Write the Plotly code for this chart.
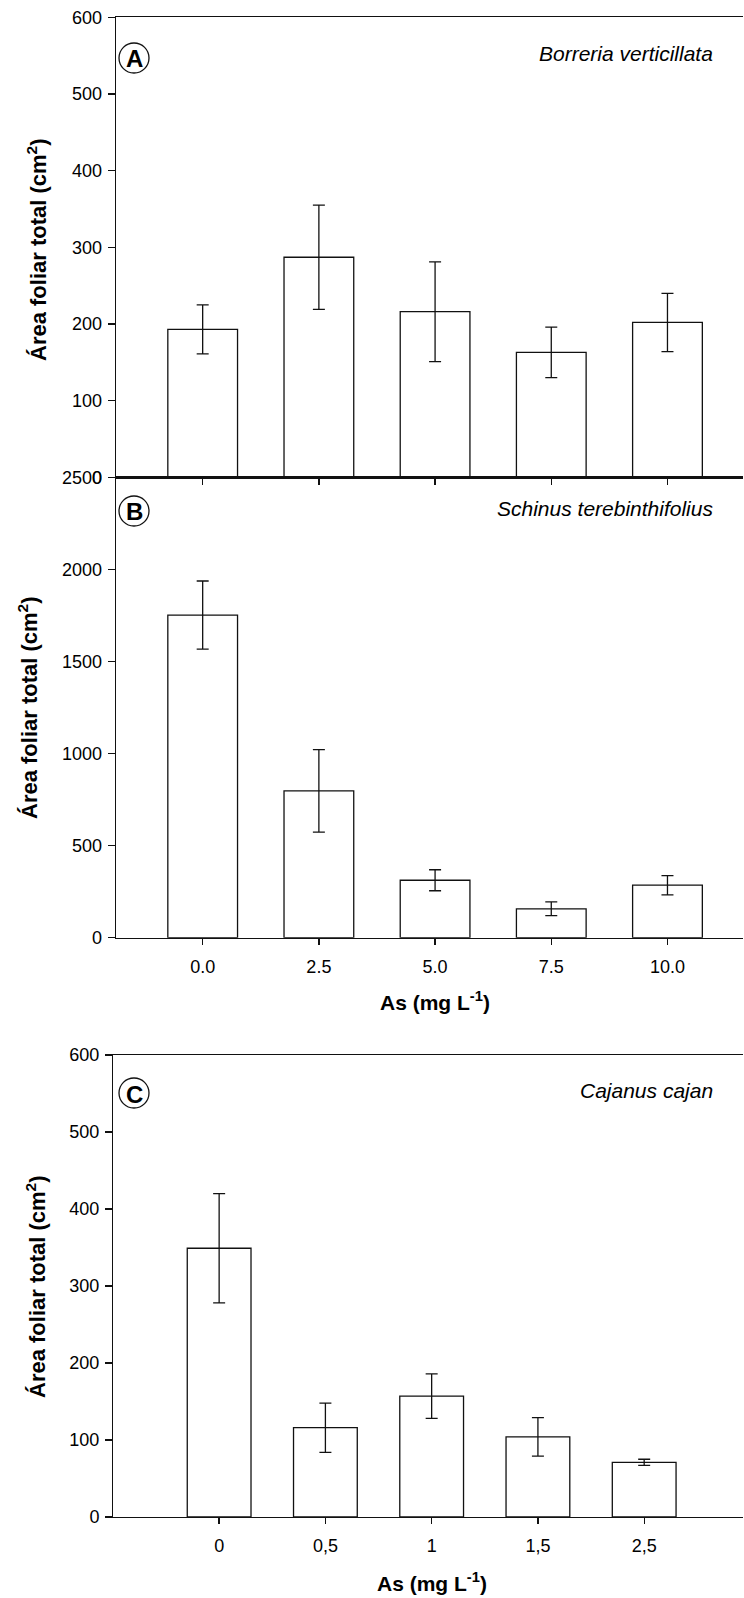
import plotly.graph_objects as go

# ---- data ----
pos = [0, 1, 2, 3, 4]
labels_b = ["0.0", "2.5", "5.0", "7.5", "10.0"]
labels_c = ["0", "0,5", "1", "1,5", "2,5"]

area_a = [193, 287, 216, 163, 202]
err_a = [32, 68, 65, 33, 38]

area_b = [1752, 797, 312, 157, 285]
err_b = [185, 224, 57, 37, 52]

area_c = [349, 116, 157, 104, 71]
err_c = [71, 32, 29, 25, 4]

species = ["Borreria verticillata", "Schinus terebinthifolius", "Cajanus cajan"]
panel_letters = ["A", "B", "C"]
ytitle = "<b>Área foliar total (cm<sup>2</sup>)</b>"
xtitle = "<b>As (mg L<sup>-1</sup>)</b>"

# page body margin is removed by the post script; figure fills the window
W, H = 744, 1598
FONT = "Liberation Sans, Arial, sans-serif"
LINE = "#111111"


def px(p):
    return p / W


def py(p):
    return 1 - p / H


fig = go.Figure()

for vals, errs, xa, ya in [(area_a, err_a, "x", "y"), (area_b, err_b, "x2", "y2"), (area_c, err_c, "x3", "y3")]:
    fig.add_trace(go.Bar(
        x=pos, y=vals, width=0.6, xaxis=xa, yaxis=ya,
        marker=dict(color="white", line=dict(color=LINE, width=1.3)),
        error_y=dict(type="data", array=errs, visible=True, color=LINE, thickness=1.3, width=6),
        showlegend=False, hoverinfo="skip",
    ))

common_x = dict(showline=True, linecolor=LINE, linewidth=1.3, mirror=True, ticks="outside",
                ticklen=6, tickcolor=LINE, tickwidth=1.3, showgrid=False, zeroline=False,
                tickvals=pos, tickfont=dict(family=FONT, size=18, color="black"),
                ticklabelstandoff=6, automargin=False, ticklabeloverflow="allow")
common_y = dict(showline=True, linecolor=LINE, linewidth=1.3, ticks="outside", ticklen=7,
                tickcolor=LINE, tickwidth=1.3, showgrid=False, zeroline=False,
                tickfont=dict(family=FONT, size=18, color="black"), ticklabelstandoff=2,
                automargin=False, ticklabeloverflow="allow")

fig.update_layout(
    template="none",
    width=W, height=H, margin=dict(l=0, r=0, t=0, b=0, pad=0, autoexpand=False), autosize=False,
    paper_bgcolor="white", plot_bgcolor="white",
    xaxis=dict(common_x, domain=[px(116), px(743)], range=[-0.746, 4.65], anchor="y",
               showticklabels=False),
    yaxis=dict(common_y, domain=[py(477.3), py(17.3)], range=[0, 600], dtick=100, anchor="x"),
    xaxis2=dict(common_x, domain=[px(116), px(743)], range=[-0.746, 4.65], anchor="y2",
                ticktext=labels_b),
    yaxis2=dict(common_y, domain=[py(937.7), py(477.3)], range=[0, 2500], dtick=500, anchor="x2"),
    xaxis3=dict(common_x, domain=[px(113.3), px(743)], range=[-0.996, 4.93], anchor="y3",
                ticktext=labels_c),
    yaxis3=dict(common_y, domain=[py(1517), py(1055)], range=[0, 600], dtick=100, anchor="x3"),
)

annotations = []
# y titles
for xc, yc in [(37, 250), (28, 708), (36, 1287)]:
    annotations.append(dict(text=ytitle, x=px(xc), y=py(yc), xref="paper", yref="paper",
                            showarrow=False, textangle=-90, xanchor="center", yanchor="middle",
                            font=dict(family=FONT, size=22, color="black")))
# x titles
for xc, yc in [(435, 1001), (432, 1582)]:
    annotations.append(dict(text=xtitle, x=px(xc), y=py(yc), xref="paper", yref="paper",
                            showarrow=False, xanchor="center", yanchor="middle",
                            font=dict(family=FONT, size=21, color="black")))
# species names
for name, yc in zip(species, [53, 508, 1090]):
    annotations.append(dict(text="<i>" + name + "</i>", x=px(715), y=py(yc), xref="paper", yref="paper",
                            showarrow=False, xanchor="right", yanchor="middle",
                            font=dict(family=FONT, size=21, color="black")))
# panel letters with circles
shapes = []
for letter, yc in zip(panel_letters, [58, 511, 1093]):
    annotations.append(dict(text="<b>" + letter + "</b>", x=px(134), y=py(yc + 1), xref="paper", yref="paper",
                            showarrow=False, xanchor="center", yanchor="middle",
                            font=dict(family=FONT, size=24, color="black")))
    shapes.append(dict(type="circle", xref="paper", yref="paper", xsizemode="pixel", ysizemode="pixel",
                       xanchor=px(134), yanchor=py(yc), x0=-15, x1=15, y0=-15, y1=15,
                       fillcolor="rgba(0,0,0,0)", line=dict(color=LINE, width=1.3)))

fig.update_layout(annotations=annotations, shapes=shapes)
fig.write_html(
    "out.html",
    config={"displayModeBar": False, "staticPlot": True},
    post_script=("document.body.style.margin='0';document.body.style.padding='0';"
                 "document.documentElement.style.overflow='hidden';document.body.style.overflow='hidden';"),
)
